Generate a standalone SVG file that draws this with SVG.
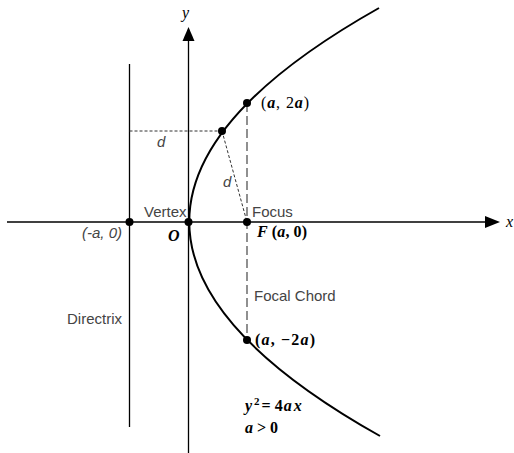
<svg xmlns="http://www.w3.org/2000/svg" width="514" height="453" viewBox="0 0 514 453">
<style>
.ax{stroke:#000;stroke-width:1.3;fill:none}
.curve{stroke:#000;stroke-width:2;fill:none}
.dash{stroke:#333;stroke-width:1;stroke-dasharray:3 2;fill:none}
.chord{stroke:#555;stroke-width:1.3;stroke-dasharray:9 4;fill:none}
.pt{fill:#000}
.lbl{font-family:"Liberation Sans",Arial,sans-serif;font-size:15px;fill:#444}
.it{font-style:italic}
.m{font-family:"Liberation Serif","Times New Roman",serif;font-size:16px;fill:#000}
</style>
<rect width="514" height="453" fill="#fff"/>
<g id="connectors">
<line class="ax" x1="7" y1="222" x2="486" y2="222"/>
<polygon points="485,216 500,222 485,228" fill="#000"/>
<line class="ax" x1="188.5" y1="453" x2="188.5" y2="40"/>
<polygon points="182.5,41 188.5,27 194.5,41" fill="#000"/>
<line class="ax" x1="129.5" y1="64" x2="129.5" y2="427"/>
<path class="curve" d="M379,8 Q-1,222 380,436"/>
<line class="dash" x1="129.5" y1="131" x2="222" y2="131"/>
<line class="dash" x1="222" y1="131" x2="247" y2="222"/>
<line class="chord" x1="247" y1="103" x2="247" y2="340"/>
</g>
<g id="vertex"><circle class="pt" cx="188.5" cy="222" r="4"/><text class="lbl" x="144" y="217">Vertex</text><text class="m" x="168" y="241" font-weight="bold" font-style="italic">O</text></g>
<g id="focus"><circle class="pt" cx="247" cy="222" r="4"/><text class="lbl" x="252" y="217">Focus</text><text class="m" x="257" y="237" font-weight="bold" textLength="50"><tspan font-style="italic">F</tspan> (<tspan font-style="italic">a</tspan>, 0)</text></g>
<g id="directrix-point"><circle class="pt" cx="129.5" cy="222" r="4"/><text class="lbl it" x="122" y="238" text-anchor="end">(-a, 0)</text></g>
<g id="directrix-label"><text class="lbl" x="122" y="324" text-anchor="end">Directrix</text></g>
<g id="upper-point"><circle class="pt" cx="247" cy="103" r="4"/><text class="m" x="261" y="108" textLength="48">(<tspan font-weight="bold" font-style="italic">a</tspan>, 2<tspan font-weight="bold" font-style="italic">a</tspan>)</text></g>
<g id="lower-point"><circle class="pt" cx="247" cy="340" r="4"/><text class="m" x="255" y="345" font-weight="bold" textLength="60">(<tspan font-style="italic">a</tspan>, −2<tspan font-style="italic">a</tspan>)</text></g>
<g id="curve-point"><circle class="pt" cx="222" cy="131" r="4"/><text class="lbl it" x="157" y="147" font-size="14">d</text><text class="lbl it" x="223" y="187" font-size="14">d</text></g>
<g id="focal-chord"><text class="lbl" x="254" y="301">Focal Chord</text></g>
<g id="axes-labels"><text class="m it" x="182" y="18" font-size="17">y</text><text class="m it" x="506" y="227" font-size="17">x</text></g>
<g id="equation"><text class="m" x="245" y="411" font-weight="bold"><tspan font-style="italic">y</tspan><tspan font-size="11" dy="-6" dx="2">2</tspan><tspan dy="6" dx="2">= 4</tspan><tspan font-style="italic" dx="1">a</tspan><tspan font-style="italic" dx="2">x</tspan></text><text class="m" x="245" y="433" font-weight="bold"><tspan font-style="italic">a</tspan> &gt; 0</text></g>
</svg>
